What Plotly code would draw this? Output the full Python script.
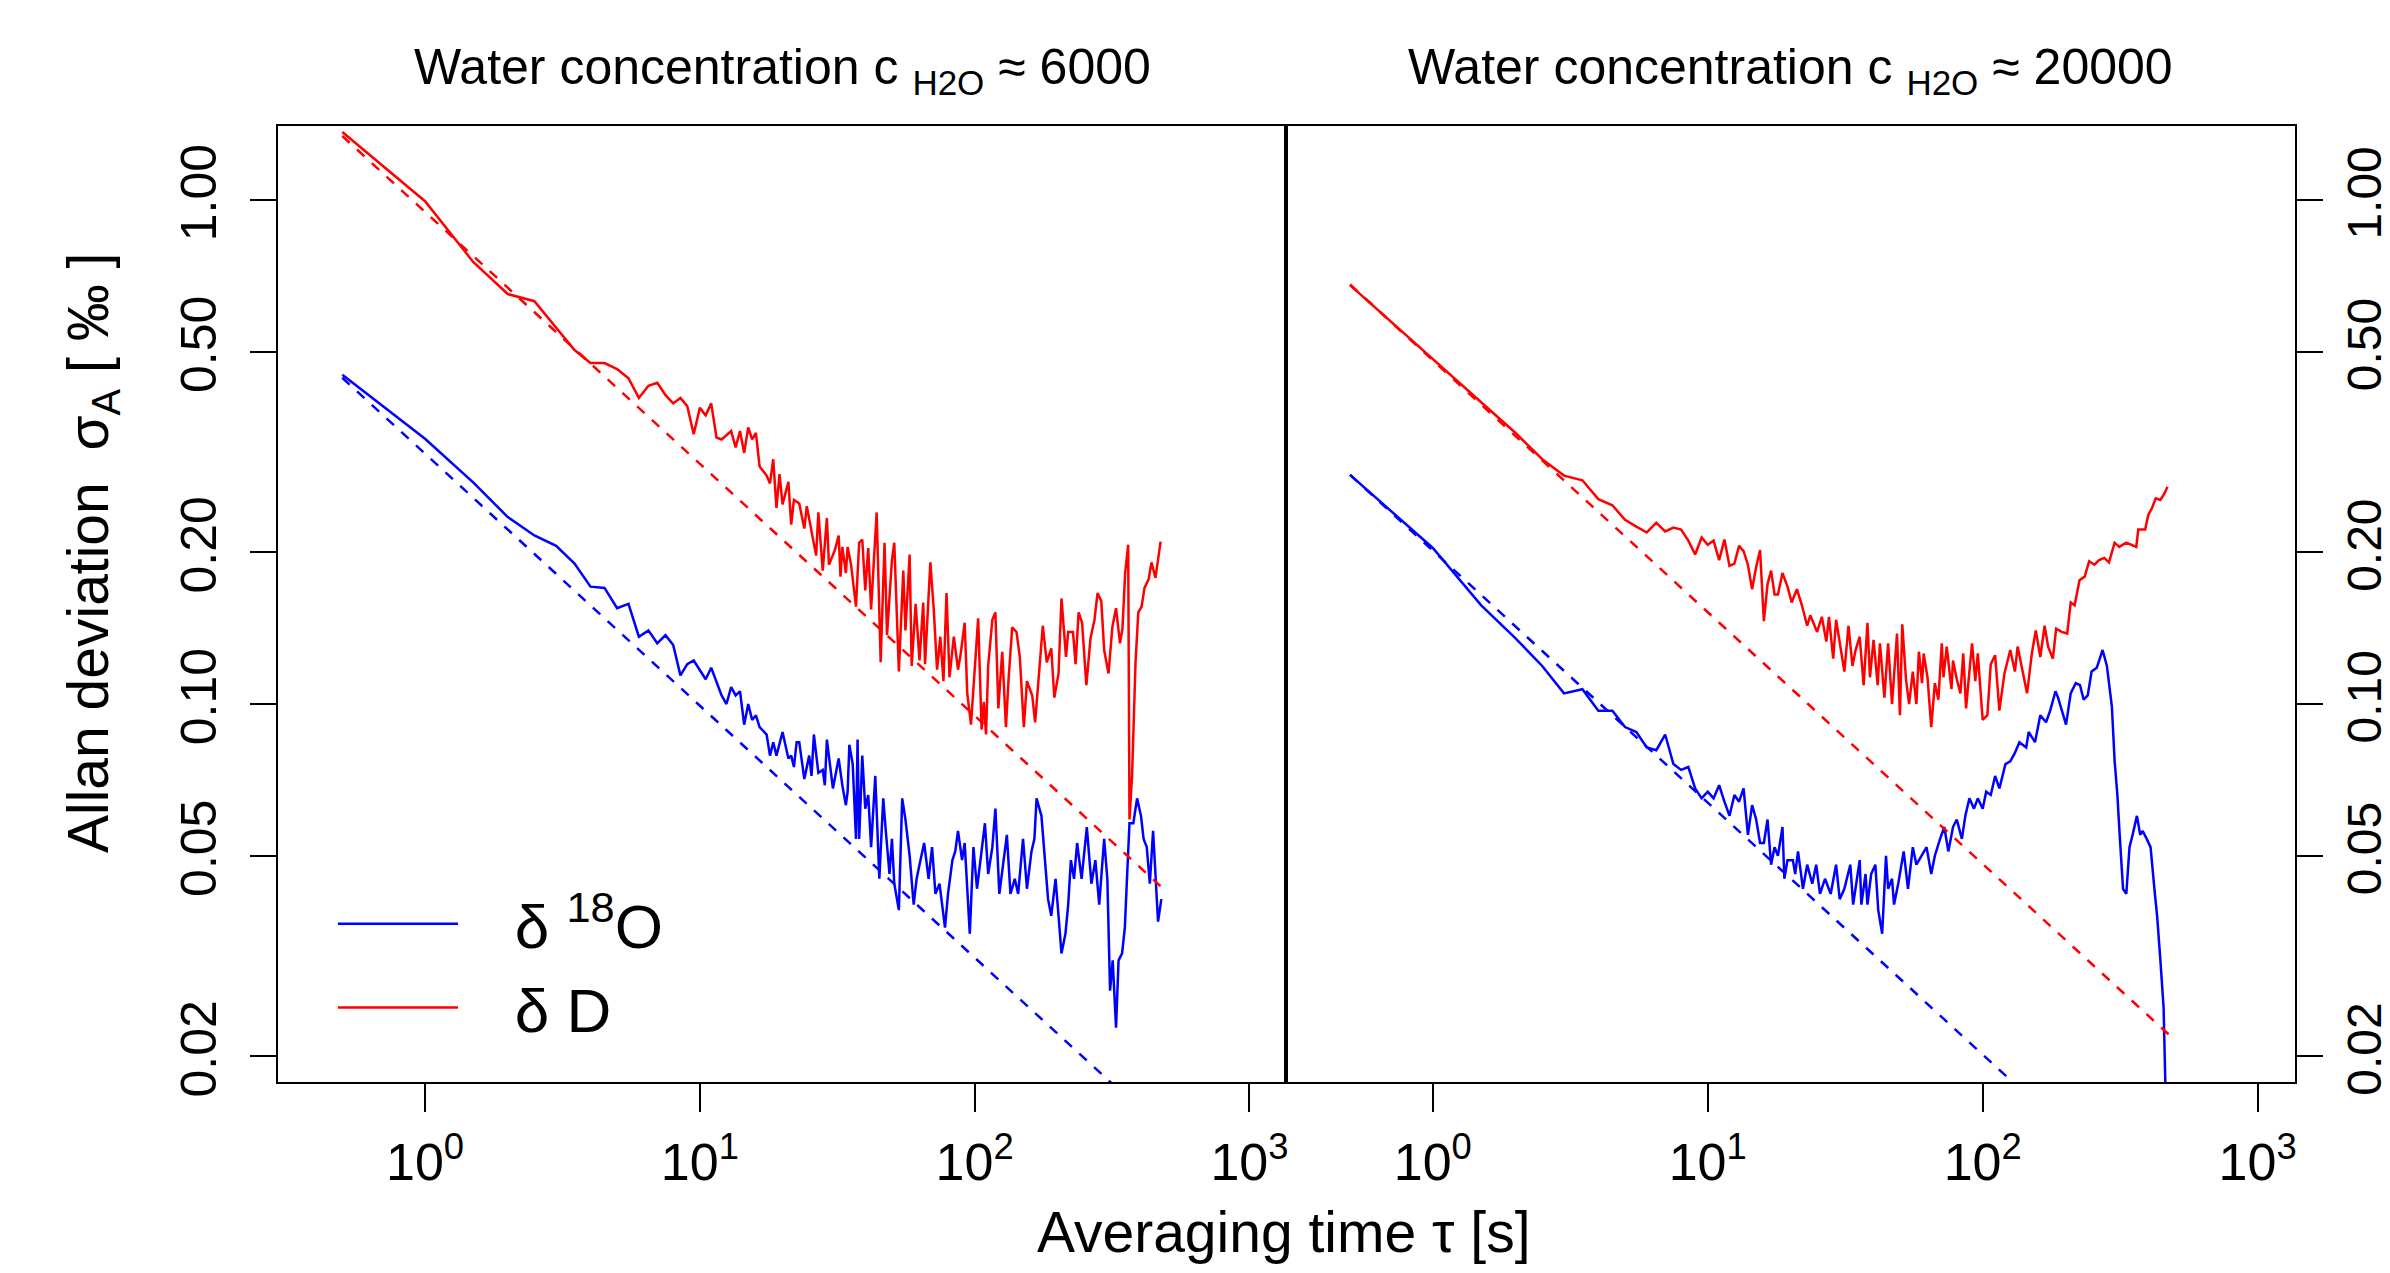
import plotly.graph_objects as go

# averaging time tau [s] and Allan deviation [permil]
# --- c_H2O ~ 6000 ---
tau_d_6000 = [0.5, 1.0, 1.5, 2.0, 2.5, 3.5, 4.0, 4.5, 5.0, 5.5, 6.0, 6.5, 7.0, 7.5, 8.0, 8.5, 9.0, 9.5,
              10, 10.5, 11, 11.5, 12, 13, 13.5, 14, 14.5, 15, 15.5, 16, 16.5, 17.5,
              18, 18.5, 19, 19.5, 20, 21, 21.5, 22, 23, 24, 24.5, 25.5, 26.5, 27, 28, 29, 29.5, 31, 32,
              32.5, 33, 34, 34.5, 35.5, 37, 38, 39, 40, 41, 42, 44, 45.5, 47, 48, 50, 51, 53, 55, 56,
              58, 59, 61, 63, 65, 66, 69, 71, 73, 75, 77, 79, 81, 84, 87, 89, 92, 94, 97, 100, 103,
              106, 108, 110, 112, 116, 119, 122, 126, 130, 133, 137, 142, 146, 151, 155, 162, 166,
              171, 177, 183, 190, 195, 202, 207, 215, 219, 228, 233, 239, 246, 255, 264, 273, 280,
              289, 296, 307, 317, 327, 338, 345, 353, 362, 366, 374, 385, 394, 405, 415, 430, 440,
              455, 475]
sig_d_6000 = [1.365, 0.995, 0.753, 0.651, 0.63, 0.504, 0.475, 0.475, 0.462, 0.443, 0.405, 0.428, 0.434,
              0.41, 0.395, 0.405, 0.39, 0.343, 0.387, 0.374, 0.395, 0.338, 0.335, 0.348, 0.323, 0.348,
              0.315, 0.354, 0.335, 0.345, 0.296, 0.284,
              0.274, 0.306, 0.245, 0.286, 0.249, 0.276, 0.227, 0.254, 0.25, 0.223, 0.247, 0.22, 0.197,
              0.24, 0.184, 0.234, 0.189, 0.202, 0.216, 0.179, 0.205, 0.182, 0.205, 0.189, 0.156, 0.209,
              0.212, 0.168, 0.204, 0.154, 0.24, 0.121, 0.209, 0.137, 0.193, 0.209, 0.116, 0.184, 0.14,
              0.198, 0.119, 0.158, 0.122, 0.159, 0.12, 0.191, 0.154, 0.117, 0.136, 0.111, 0.166, 0.113,
              0.136, 0.117, 0.126, 0.145, 0.105, 0.091, 0.117, 0.148, 0.089, 0.101, 0.087, 0.119,
              0.147, 0.152, 0.098, 0.127, 0.09, 0.113, 0.142, 0.139, 0.124, 0.09, 0.111, 0.104, 0.092,
              0.113, 0.143, 0.121, 0.129, 0.103, 0.115, 0.162, 0.124, 0.139, 0.139, 0.12, 0.152, 0.145,
              0.109, 0.135, 0.147, 0.166, 0.16, 0.128, 0.115, 0.142, 0.155, 0.132, 0.141, 0.182,
              0.207, 0.059, 0.072, 0.121, 0.152, 0.156, 0.17, 0.177, 0.191, 0.178, 0.21]

tau_o_6000 = [0.5, 1.0, 1.5, 2.0, 2.5, 3.0, 3.5, 4.0, 4.5, 5.0, 5.5, 6.0, 6.5, 7.0, 7.5, 8.0, 8.5, 9.0,
              9.5, 10.5, 11, 12, 12.5, 13, 13.5, 14, 14.5, 15, 15.5, 16, 16.5, 17.5,
              18, 18.5, 19, 20, 21, 21.5, 22, 22.5, 23, 24, 25, 25.5, 26, 27, 28, 28.5, 29, 30, 30.5,
              32, 33, 34, 34.5, 35, 36, 37, 37.5, 38, 39, 40, 41, 42, 43.5, 45, 46.5, 47.5, 49, 50,
              51, 53, 54.5, 56, 58, 60, 61.5, 63, 65.5, 68, 70, 72, 74.5, 78, 80, 83, 85, 87, 90, 92,
              96, 99, 102, 109, 112, 116, 119, 123, 131, 135, 140, 144, 150, 155, 161, 165, 168, 175,
              180, 185, 190, 197, 202, 207, 214, 219, 224, 230, 236, 245, 256, 266, 275, 284, 296,
              304, 311, 318, 327, 334, 344, 352, 359, 366, 378, 390, 403, 412, 423, 434, 446, 455,
              465, 478]
sig_o_6000 = [0.45, 0.336, 0.275, 0.235, 0.216, 0.206, 0.19, 0.171, 0.17, 0.155, 0.158, 0.136, 0.14,
              0.132, 0.137, 0.131, 0.114, 0.12, 0.122, 0.112, 0.118, 0.104, 0.1, 0.108, 0.104, 0.106,
              0.091, 0.1, 0.093, 0.095, 0.09, 0.087,
              0.079, 0.084, 0.079, 0.088, 0.078, 0.079, 0.075, 0.084, 0.084, 0.071, 0.079, 0.072,
              0.087, 0.073, 0.074, 0.069, 0.085, 0.072, 0.068, 0.078, 0.069, 0.063, 0.067, 0.083,
              0.076, 0.054, 0.085, 0.054, 0.079, 0.062, 0.066, 0.052, 0.072, 0.045, 0.065, 0.056,
              0.046, 0.054, 0.044, 0.039, 0.065, 0.059, 0.05, 0.04, 0.045, 0.048, 0.053, 0.045, 0.052,
              0.042, 0.044, 0.036, 0.042, 0.049, 0.051, 0.056, 0.049, 0.053, 0.035, 0.052, 0.043,
              0.058, 0.046, 0.052, 0.062, 0.042, 0.055, 0.042, 0.045, 0.042, 0.054, 0.043, 0.051,
              0.054, 0.065, 0.06, 0.049, 0.041, 0.038, 0.045, 0.038, 0.032, 0.035, 0.04, 0.049, 0.045,
              0.053, 0.045, 0.057, 0.044, 0.049, 0.04, 0.054, 0.045, 0.027, 0.031, 0.0228, 0.031,
              0.032, 0.036, 0.046, 0.058, 0.058, 0.065, 0.06, 0.054, 0.052, 0.044, 0.056, 0.046,
              0.037, 0.041]

# --- c_H2O ~ 20000 ---
tau_d_20000 = [0.5, 1.0, 1.5, 2.0, 2.5, 3.0, 3.5, 4.0, 4.5, 5.0, 5.5, 6.0, 6.5, 7.0, 7.5, 8.0, 8.5, 9.0,
               9.5, 10, 10.5, 11, 11.5, 12, 12.5, 13, 13.5, 14, 14.5, 15, 15.5, 16, 16.5, 17, 17.5, 18,
               18.7, 19.5, 20.2, 21.1, 22, 23, 23.6, 25, 26, 27, 27.6, 28.6, 29.3, 30.3, 31.4, 32.5,
               33.6, 34.5, 35.7, 36.9, 38.1, 38.9, 40.1, 41.5, 42.3, 43.9, 45.3, 46.8, 48.8, 50, 51,
               52.6, 54, 55.7, 57.4, 58.6, 60.2, 61, 63, 65, 67, 69, 71, 72, 74, 77, 78, 80.5, 83, 85,
               87, 90, 91.5, 94, 96, 100, 104, 107, 111, 115, 120, 126, 131, 134, 141, 145, 151, 156,
               162, 168, 173, 180, 185, 194, 203, 209, 216, 225, 235, 244, 255, 265, 277, 288, 302,
               314, 333, 362, 368, 390, 400, 413, 426, 443, 459, 470]
sig_d_20000 = [0.678, 0.484, 0.396, 0.345, 0.306, 0.284, 0.278, 0.255, 0.248, 0.232, 0.225, 0.219,
               0.229, 0.22, 0.224, 0.222, 0.211, 0.198, 0.214, 0.207, 0.211, 0.193, 0.212, 0.188, 0.19,
               0.206, 0.201, 0.189, 0.169, 0.187, 0.202, 0.146, 0.173, 0.184, 0.165, 0.165,
               0.182, 0.171, 0.159, 0.169, 0.157, 0.143, 0.15, 0.139, 0.149, 0.133, 0.149, 0.123,
               0.147, 0.13, 0.116, 0.143, 0.119, 0.128, 0.136, 0.109, 0.145, 0.113, 0.134, 0.109,
               0.132, 0.103, 0.132, 0.1, 0.138, 0.095, 0.144, 0.112, 0.1, 0.116, 0.1, 0.127, 0.11,
               0.126, 0.113, 0.09, 0.11, 0.102, 0.132, 0.113, 0.13, 0.107, 0.122, 0.112, 0.105, 0.126,
               0.098, 0.12, 0.132, 0.111, 0.126, 0.093, 0.095, 0.12, 0.125, 0.097, 0.115, 0.128, 0.116,
               0.13, 0.113, 0.105, 0.126, 0.14, 0.124, 0.143, 0.13, 0.123, 0.141, 0.139, 0.138, 0.159,
               0.157, 0.176, 0.179, 0.192, 0.189, 0.193, 0.195, 0.191, 0.209, 0.205, 0.209, 0.205,
               0.222, 0.222, 0.237, 0.245, 0.256, 0.254, 0.262, 0.27]

tau_o_20000 = [0.5, 1.0, 1.5, 2.0, 2.5, 3.0, 3.5, 4.0, 4.5, 5.0, 5.5, 6.0, 6.5, 7.0, 7.5, 8.0, 8.5, 9.0,
               9.5, 10, 10.5, 11, 11.5, 12, 12.5, 13, 13.5, 14, 14.5, 15, 15.5, 16, 16.5, 17, 17.5, 18,
               18.7, 19, 19.5, 20.4, 20.8, 21.3, 22.2, 23, 24, 24.8, 25.6, 26.7, 28, 29.3, 30.2, 31.4,
               33, 33.8, 35.7, 36.2, 37.5, 38.1, 39.3, 40.7, 41.7, 43.1, 44.5, 45.3, 46.8, 47.6, 49.3,
               51.6, 53.5, 55.7, 57.4, 59.8, 62.5, 65, 67, 70, 72.5, 75, 78, 80.5, 84, 86.5, 89.5, 93,
               96, 100, 103, 107, 111, 115, 121, 126, 131, 136, 144, 147, 155, 162, 170, 176, 184, 188,
               196, 201, 209, 218, 226, 233, 241, 249, 260, 265, 273, 283, 295, 302, 309, 315, 324,
               333, 342, 351, 364, 374, 382, 395, 408, 423, 431, 443, 455, 465]
sig_o_20000 = [0.285, 0.204, 0.157, 0.135, 0.119, 0.105, 0.107, 0.097, 0.097, 0.09, 0.088, 0.082,
               0.081, 0.087, 0.076, 0.074, 0.075, 0.068, 0.065, 0.067, 0.065, 0.069, 0.064, 0.06,
               0.066, 0.064, 0.068, 0.055, 0.063, 0.059, 0.053, 0.053, 0.059, 0.048, 0.052, 0.05,
               0.057, 0.045, 0.049, 0.049, 0.046, 0.051, 0.043, 0.048, 0.044, 0.048, 0.042, 0.045,
               0.042, 0.048, 0.041, 0.043, 0.048, 0.04, 0.049, 0.04, 0.046, 0.04, 0.046, 0.048, 0.039,
               0.035, 0.05, 0.043, 0.045, 0.04, 0.044, 0.051, 0.043, 0.052, 0.048, 0.05, 0.052, 0.046,
               0.05, 0.054, 0.057, 0.051, 0.057, 0.059, 0.054, 0.06, 0.065, 0.062, 0.065, 0.062, 0.067,
               0.066, 0.072, 0.068, 0.076, 0.077, 0.08, 0.084, 0.082, 0.088, 0.084, 0.095, 0.092,
               0.097, 0.106, 0.103, 0.096, 0.091, 0.105, 0.11, 0.109, 0.102, 0.104, 0.116, 0.118,
               0.122, 0.128, 0.119, 0.099, 0.077, 0.066, 0.055, 0.043, 0.042, 0.052, 0.055, 0.06,
               0.055, 0.056, 0.054, 0.052, 0.042, 0.038, 0.031, 0.025, 0.015]

# white-noise reference lines (slope -1/2), end points
tau_ref = [0.5, 475]
ref_d_6000 = [1.34, 0.0435]
ref_o_6000 = [0.444, 0.0144]
ref_d_20000 = [0.68, 0.0221]
ref_o_20000 = [0.285, 0.00925]

BLUE = "#0000ff"
RED = "#ff0000"
FONT = "Liberation Sans, Arial, Helvetica, sans-serif"

# page body keeps an 8px margin, so the figure is a bit smaller than the window
OFF = 8
W, H = 2382, 1257


def fx(px):
    return (px - OFF) / W


def fy(py):
    return 1 - (py - OFF) / H


fig = go.Figure()


def add_panel(xa, ya, tau_o, sig_o, tau_d, sig_d, ref_o, ref_d, legend):
    fig.add_trace(go.Scatter(x=tau_o, y=sig_o, mode="lines", line=dict(color=BLUE, width=2.5),
                             name="\u00a0\u00a0\u00a0δ <sup>18</sup>O", showlegend=legend,
                             legendrank=1, xaxis=xa, yaxis=ya))
    fig.add_trace(go.Scatter(x=tau_d, y=sig_d, mode="lines", line=dict(color=RED, width=2.5),
                             name="\u00a0\u00a0\u00a0δ D", showlegend=legend, legendrank=2,
                             xaxis=xa, yaxis=ya))
    fig.add_trace(go.Scatter(x=tau_ref, y=ref_o, mode="lines", showlegend=False,
                             line=dict(color=BLUE, width=2.5, dash="10px,10px"),
                             xaxis=xa, yaxis=ya))
    fig.add_trace(go.Scatter(x=tau_ref, y=ref_d, mode="lines", showlegend=False,
                             line=dict(color=RED, width=2.5, dash="10px,10px"),
                             xaxis=xa, yaxis=ya))


add_panel("x", "y", tau_o_6000, sig_o_6000, tau_d_6000, sig_d_6000, ref_o_6000, ref_d_6000, True)
add_panel("x2", "y2", tau_o_20000, sig_o_20000, tau_d_20000, sig_d_20000, ref_o_20000, ref_d_20000, False)

x_ticks = [1, 10, 100, 1000]
x_labels = ["10<sup>0</sup>", "10<sup>1</sup>", "10<sup>2</sup>", "10<sup>3</sup>"]
y_ticks = [0.02, 0.05, 0.1, 0.2, 0.5, 1.0]
y_labels = ["0.02", "0.05", "0.10", "0.20", "0.50", "1.00"]

xcommon = dict(type="log", tickvals=x_ticks, ticktext=x_labels, ticks="outside", ticklen=28,
               tickwidth=2, tickcolor="black", showline=True, mirror=True, linewidth=2,
               linecolor="black", showgrid=False, zeroline=False, automargin=False,
               ticklabelstandoff=6,
               tickfont=dict(size=52, color="black", family=FONT))
ycommon = dict(type="log", range=[-1.75, 0.148], domain=[fy(1082), fy(125.5)],
               tickvals=y_ticks, ticktext=y_labels, tickangle=-90, ticks="outside", ticklen=26,
               tickwidth=2, tickcolor="black", showline=True, mirror=True, linewidth=2,
               linecolor="black", showgrid=False, zeroline=False, automargin=False)

fig.update_layout(
    width=W, height=H,
    template="none",
    paper_bgcolor="white", plot_bgcolor="white",
    margin=dict(l=0, r=0, t=0, b=0),
    font=dict(family=FONT, color="black"),
    xaxis=dict(xcommon, range=[-0.535, 3.133], domain=[fx(278), fx(1286)], anchor="y"),
    xaxis2=dict(xcommon, range=[-0.534, 3.136], domain=[fx(1286), fx(2295)], anchor="y2"),
    yaxis=dict(ycommon, anchor="x", side="left", ticklabelstandoff=14,
               tickfont=dict(size=50, color="black", family=FONT)),
    yaxis2=dict(ycommon, anchor="x2", side="right", ticklabelstandoff=0,
                tickfont=dict(size=48, color="black", family=FONT)),
    showlegend=True,
    legend=dict(x=fx(333), y=fy(877), xanchor="left", yanchor="top",
                font=dict(size=62, family=FONT, color="black"), itemwidth=120,
                bgcolor="rgba(0,0,0,0)", borderwidth=0, tracegroupgap=0),
)

title_font = dict(size=50, family=FONT, color="black")
fig.add_annotation(text="Water concentration c <sub>H2O</sub> ≈ 6000", x=fx(782), y=fy(70),
                   xref="paper", yref="paper", xanchor="center", yanchor="middle",
                   showarrow=False, font=title_font)
fig.add_annotation(text="Water concentration c <sub>H2O</sub> ≈ 20000", x=fx(1790), y=fy(70),
                   xref="paper", yref="paper", xanchor="center", yanchor="middle",
                   showarrow=False, font=title_font)
fig.add_annotation(text="Averaging time τ [s]", x=fx(1284), y=fy(1232),
                   xref="paper", yref="paper", xanchor="center", yanchor="middle",
                   showarrow=False, font=dict(size=57, family=FONT, color="black"))
fig.add_annotation(text="Allan deviation  σ<sub>A</sub> [ ‰ ]", x=fx(92), y=fy(553),
                   xref="paper", yref="paper", xanchor="center", yanchor="middle",
                   textangle=-90, showarrow=False,
                   font=dict(size=57, family=FONT, color="black"))

fig.write_html("out.html")
